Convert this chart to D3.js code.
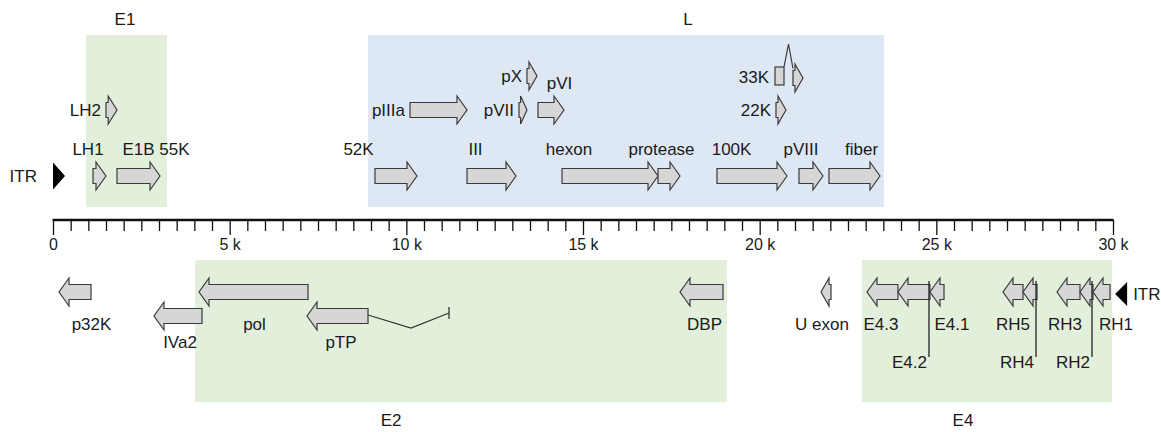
<!DOCTYPE html>
<html>
<head>
<meta charset="utf-8">
<script src="https://cdn.jsdelivr.net/npm/d3@7"></script>
<style>
  body { margin: 0; background: #fff; }
  text { font-family: "Liberation Sans", Arial, sans-serif; fill: #1a1a1a; }
  .gene { fill: #d6d6d6; stroke: #3a3a3a; stroke-width: 1.2px; stroke-linejoin: miter; }
  .lbl { font-size: 17px; }
  .axis text { font-size: 16px; }
</style>
</head>
<body>
<div id="chart"></div>
<script>
(function() {
  // transcription regions (bp)
  var regionNames = ["E1", "L", "E2", "E4"];
  var regionStart = [934, 8916, 4019, 22898];
  var regionEnd   = [3227, 23521, 19077, 29975];
  var regionStrand = ["top", "top", "bottom", "bottom"];
  var regionLabelAt = [2038, 17972, 9567, 25755];

  // rightward genes (top strand)
  var topGenes   = ["LH1", "LH2", "E1B 55K", "52K", "pIIIa", "III", "pVII", "pX", "pVI", "hexon", "protease", "100K", "22K", "pVIII", "fiber"];
  var topStart   = [1132, 1500, 1811, 9113, 10104, 11717, 13189, 13415, 13726, 14406, 17123, 18792, 20462, 21113, 21962];
  var topEnd     = [1500, 1811, 3028, 10302, 11717, 13104, 13415, 13698, 14462, 17123, 17745, 20774, 20745, 21792, 23405];
  var topTrack   = [1, 2, 1, 1, 2, 1, 2, 3, 2, 1, 1, 1, 2, 1, 1];
  var topLabelAt = [991, null, 2915, 8647, null, 11958, null, null, 14335, 14604, 17222, 19204, null, 21170, 22883];

  // 33K is spliced: two exons
  var k33Start = [20434, 20943];
  var k33End   = [20689, 21226];

  // leftward genes (bottom strand)
  var botGenes   = ["p32K", "IVa2", "pol", "pTP", "DBP", "U exon", "E4.3", "E4.2", "E4.1", "RH5", "RH4", "RH3", "RH2", "RH1"];
  var botStart   = [170, 2858, 4132, 7189, 17745, 21736, 23038, 23915, 24820, 26887, 27453, 28415, 29066, 29434];
  var botEnd     = [1076, 4217, 7217, 8915, 18962, 22019, 23915, 24820, 25217, 27453, 27849, 29066, 29434, 29915];
  var botTrack   = [1, 2, 1, 2, 1, 1, 1, 1, 1, 1, 1, 1, 1, 1];
  var botLabelAt = [1090, 3594, 5703, 8151, 18439, 21764, 23434, null, 25444, 27170, null, 28642, null, 30085];

  // pTP intron path (bp)
  var pTPIntron = [8915, 10132, 11208];

  // ITRs
  var itrStart = [0, 30400];
  var itrEnd   = [340, 30060];

  var width = 1161, height = 432;

  var svg = d3.select("#chart").append("svg")
      .attr("width", width)
      .attr("height", height);

  var x = d3.scaleLinear()
      .domain([0, 30000])
      .range([53, 1113]);

  var axisY = 220;
  var topRowY = {1: 176, 2: 110, 3: 76};
  var botRowY = {1: 292, 2: 316};
  var bodyH = 7.5, headH = 14, headLen = 10;

  // region shading
  svg.append("g").selectAll("rect")
      .data(regionNames)
    .enter().append("rect")
      .attr("x", (d, i) => x(regionStart[i]))
      .attr("width", (d, i) => x(regionEnd[i]) - x(regionStart[i]))
      .attr("y", (d, i) => regionStrand[i] == "top" ? 35 : 260)
      .attr("height", (d, i) => regionStrand[i] == "top" ? 172 : 142)
      .attr("fill", d => d == "L" ? "#dee8f4" : "#e2efda");

  svg.append("g").selectAll("text")
      .data(regionNames)
    .enter().append("text")
      .attr("class", "lbl")
      .attr("x", (d, i) => x(regionLabelAt[i]))
      .attr("y", (d, i) => regionStrand[i] == "top" ? 25 : 426)
      .attr("text-anchor", "middle")
      .text(d => d);

  // axis
  var axis = d3.axisBottom(x)
      .tickValues(d3.range(0, 30001, 500))
      .tickSizeOuter(0)
      .tickFormat(d => d % 5000 ? "" : (d == 0 ? "0" : d / 1000 + " k"));

  var axisG = svg.append("g")
      .attr("class", "axis")
      .attr("transform", "translate(0," + axisY + ")")
      .call(axis);

  axisG.select(".domain").remove();
  axisG.selectAll(".tick line")
      .attr("stroke", "#111")
      .attr("stroke-width", 1.3)
      .attr("y2", d => d % 5000 ? 11 : 15);
  axisG.selectAll(".tick text")
      .attr("y", 19)
      .attr("dy", "0.71em")
      .attr("fill", "#1a1a1a")
      .style("font-family", "'Liberation Sans', Arial, sans-serif");
  axisG.append("line")
      .attr("x1", x(0) - 0.5)
      .attr("x2", x(30000) + 0.5)
      .attr("stroke", "#111")
      .attr("stroke-width", 2.6);

  function arrowPath(x1, x2, y, dir) {
    var len = Math.abs(x2 - x1);
    var h = Math.min(headLen, len * 0.8);
    if (dir > 0) {
      var b = x2 - h;
      return "M" + x1 + "," + (y - bodyH) + "L" + b + "," + (y - bodyH) + "L" + b + "," + (y - headH) +
        "L" + x2 + "," + y + "L" + b + "," + (y + headH) + "L" + b + "," + (y + bodyH) +
        "L" + x1 + "," + (y + bodyH) + "Z";
    } else {
      var b2 = x1 + h;
      return "M" + x2 + "," + (y - bodyH) + "L" + b2 + "," + (y - bodyH) + "L" + b2 + "," + (y - headH) +
        "L" + x1 + "," + y + "L" + b2 + "," + (y + headH) + "L" + b2 + "," + (y + bodyH) +
        "L" + x2 + "," + (y + bodyH) + "Z";
    }
  }

  // top genes
  var top = svg.append("g");
  top.selectAll("path")
      .data(topGenes)
    .enter().append("path")
      .attr("class", "gene")
      .attr("d", (d, i) => arrowPath(x(topStart[i]), x(topEnd[i]), topRowY[topTrack[i]], 1));

  top.selectAll("text")
      .data(topGenes)
    .enter().append("text")
      .attr("class", "lbl")
      .attr("x", (d, i) => topLabelAt[i] == null ? x(topStart[i]) - 5 : x(topLabelAt[i]))
      .attr("y", (d, i) => topRowY[topTrack[i]] + (topLabelAt[i] == null ? 6 : -21))
      .attr("text-anchor", (d, i) => topLabelAt[i] == null ? "end" : "middle")
      .text(d => d);

  // 33K
  var y33 = topRowY[3];
  var g33 = svg.append("g");
  g33.append("rect")
      .attr("class", "gene")
      .attr("x", x(k33Start[0]))
      .attr("y", y33 - 9)
      .attr("width", x(k33End[0]) - x(k33Start[0]))
      .attr("height", 18);
  g33.append("path")
      .attr("fill", "none")
      .attr("stroke", "#3a3a3a")
      .attr("stroke-width", 1.2)
      .attr("d", d3.line()([
        [x(k33End[0]), y33 - 9],
        [(x(k33End[0]) + x(k33Start[1])) / 2, 44],
        [x(k33Start[1]), y33 - bodyH]
      ]));
  g33.append("path")
      .attr("class", "gene")
      .attr("d", arrowPath(x(k33Start[1]), x(k33End[1]), y33 + 2, 1));
  g33.append("text")
      .attr("class", "lbl")
      .attr("x", x(k33Start[0]) - 6)
      .attr("y", y33 + 7)
      .attr("text-anchor", "end")
      .text("33K");

  // bottom genes
  var bot = svg.append("g");

  // leader lines
  bot.selectAll("line.leader")
      .data(botGenes.filter((d, i) => botLabelAt[i] == null))
    .enter().append("line")
      .attr("class", "leader")
      .attr("x1", d => x(botEnd[botGenes.indexOf(d)]) - 1)
      .attr("x2", d => x(botEnd[botGenes.indexOf(d)]) - 1)
      .attr("y1", 281)
      .attr("y2", 357)
      .attr("stroke", "#222")
      .attr("stroke-width", 1.3);

  bot.selectAll("path.gene")
      .data(botGenes)
    .enter().append("path")
      .attr("class", "gene")
      .attr("d", (d, i) => arrowPath(x(botStart[i]), x(botEnd[i]), botRowY[botTrack[i]], -1));

  bot.selectAll("line.leader").raise();

  bot.selectAll("text")
      .data(botGenes)
    .enter().append("text")
      .attr("class", "lbl")
      .attr("x", (d, i) => botLabelAt[i] == null ? x(botEnd[i]) - 3 : x(botLabelAt[i]))
      .attr("y", (d, i) => botLabelAt[i] == null ? 368 : (botTrack[i] == 1 ? 330 : 348))
      .attr("text-anchor", (d, i) => botLabelAt[i] == null ? "end" : "middle")
      .text(d => d);

  // pTP intron
  var yP = botRowY[2];
  bot.append("path")
      .attr("fill", "none")
      .attr("stroke", "#333")
      .attr("stroke-width", 1.2)
      .attr("d", d3.line()([
        [x(pTPIntron[0]), yP - 1],
        [x(pTPIntron[1]), yP + 12],
        [x(pTPIntron[2]), yP - 3]
      ]));
  bot.append("line")
      .attr("x1", x(pTPIntron[2]))
      .attr("x2", x(pTPIntron[2]))
      .attr("y1", yP - 9)
      .attr("y2", yP + 3)
      .attr("stroke", "#333")
      .attr("stroke-width", 1.3);

  // ITRs
  var itrY = [topRowY[1], 294];
  svg.append("g").selectAll("path")
      .data(itrStart)
    .enter().append("path")
      .attr("fill", "#000")
      .attr("d", (d, i) => {
        var a = x(itrStart[i]), b = x(itrEnd[i]), y = itrY[i];
        var h = i == 0 ? 13.5 : 12;
        return "M" + a + "," + (y - h) + "L" + b + "," + y + "L" + a + "," + (y + h) + "Z";
      });
  svg.append("text")
      .attr("class", "lbl")
      .attr("x", x(0) - 16)
      .attr("y", itrY[0] + 6)
      .attr("text-anchor", "end")
      .text("ITR");
  svg.append("text")
      .attr("class", "lbl")
      .attr("x", x(30400) + 6)
      .attr("y", itrY[1] + 6)
      .attr("text-anchor", "start")
      .text("ITR");
})();
</script>
</body>
</html>
